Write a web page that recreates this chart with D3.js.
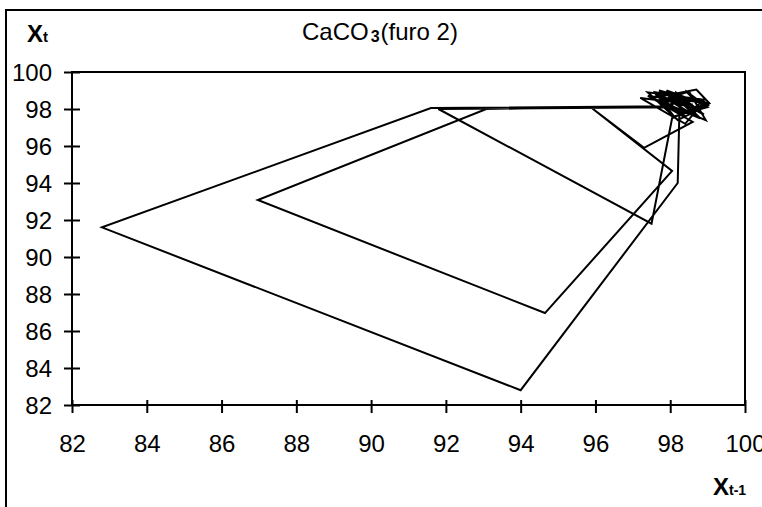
<!DOCTYPE html>
<html>
<head>
<meta charset="utf-8">
<script src="https://cdn.jsdelivr.net/npm/d3@7.9.0/dist/d3.min.js"></script>
<style>
  body { margin: 0; background: #fff; }
  text { font-family: "Liberation Sans", Arial, sans-serif; fill: #000; }
</style>
</head>
<body>
<svg id="chart" width="762" height="507"></svg>
<script>
// CaCO3 % down the core (furo 2), in order; plotted as x(t) against x(t-1)
const caco3 = [
  98.4, 97.6, 98.8, 97.9, 99.0, 98.2, 97.4, 98.9, 98.5, 97.8,
  98.7, 99.05, 98.3, 97.7, 98.6, 98.05, 97.5, 91.8, 98.0, 98.1,
  98.7, 97.6, 98.9, 98.4, 97.2, 98.6, 98.25, 98.2, 94.0, 82.8,
  91.6, 98.05, 98.15, 98.8, 97.5, 98.6, 97.3, 95.9, 98.05, 94.65,
  86.97, 93.08, 98.0, 98.15, 98.9, 97.7, 99.0, 98.3, 97.8, 98.5,
  98.95, 97.4, 98.7, 98.4, 99.0, 98.1, 97.6, 98.9, 98.3
];
const xTicks = [82, 84, 86, 88, 90, 92, 94, 96, 98, 100];
const yTicks = [82, 84, 86, 88, 90, 92, 94, 96, 98, 100];
const title = 'CaCO';

const svg = d3.select('#chart');

const x = d3.scaleLinear().domain([82, 100]).range([72, 745]);
const y = d3.scaleLinear().domain([82, 100]).range([405, 72]);

// outer chart frame (runs off the right and bottom of the picture)
svg.append('rect')
  .attr('x', 6).attr('y', 10)
  .attr('width', 820).attr('height', 600)
  .attr('fill', 'none').attr('stroke', '#000').attr('stroke-width', 2);

// plot area box
svg.append('rect')
  .attr('x', x(82)).attr('y', y(100))
  .attr('width', x(100) - x(82)).attr('height', y(82) - y(100))
  .attr('fill', 'none').attr('stroke', '#000').attr('stroke-width', 2);

const xAxis = svg.append('g')
  .attr('transform', `translate(0,${y(82)})`)
  .call(d3.axisBottom(x).tickValues(xTicks).tickSize(8).tickPadding(22).tickSizeOuter(0));
xAxis.select('.domain').remove();
xAxis.selectAll('.tick line').attr('y1', -5).attr('stroke-width', 2);
xAxis.selectAll('.tick text').attr('font-size', 24).attr('font-family', null);

const yAxis = svg.append('g')
  .attr('transform', `translate(${x(82)},0)`)
  .call(d3.axisLeft(y).tickValues(yTicks).tickSize(8).tickPadding(12).tickSizeOuter(0));
yAxis.select('.domain').remove();
yAxis.selectAll('.tick line').attr('x1', 8).attr('stroke-width', 2);
yAxis.selectAll('.tick text').attr('font-size', 24).attr('font-family', null).attr('dy', '0.36em');

// lag plot path
const pairs = d3.pairs(caco3);
const line = d3.line().x(d => x(d[0])).y(d => y(d[1]));
svg.append('path')
  .datum(pairs)
  .attr('d', line)
  .attr('fill', 'none')
  .attr('stroke', '#000')
  .attr('stroke-width', 2);

// title
const t = svg.append('text').attr('x', 302).attr('y', 40).attr('font-size', 24);
t.append('tspan').text(title);
t.append('tspan').attr('font-size', 16).attr('font-weight', 'bold').attr('dx', 2).attr('dy', 2).text('3');
t.append('tspan').attr('dy', -2).attr('dx', 1).text('(furo 2)');

// axis titles
const yt = svg.append('text').attr('x', 27).attr('y', 42).attr('font-weight', 'bold');
yt.append('tspan').attr('font-size', 24).text('X');
yt.append('tspan').attr('font-size', 15).text('t');

const xt = svg.append('text').attr('x', 713).attr('y', 495).attr('font-weight', 'bold');
xt.append('tspan').attr('font-size', 24).text('X');
xt.append('tspan').attr('font-size', 14).text('t-1');
</script>
</body>
</html>
